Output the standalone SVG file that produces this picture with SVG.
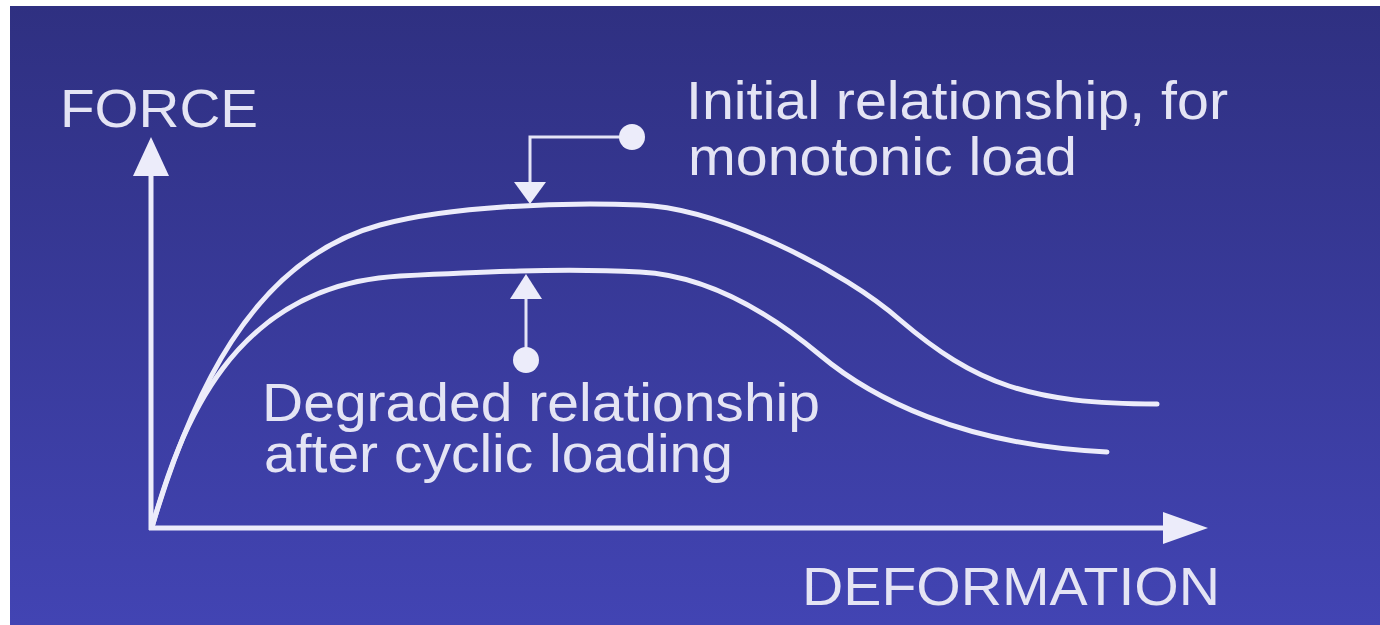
<svg xmlns="http://www.w3.org/2000/svg" width="1380" height="625" viewBox="0 0 1380 625">
<defs>
<linearGradient id="bg" x1="0" y1="0" x2="0" y2="1">
<stop offset="0" stop-color="#2f3081"/>
<stop offset="1" stop-color="#4244b3"/>
</linearGradient>
<style>
.lbl{font-family:"Liberation Sans",Arial,sans-serif;font-size:54px;fill:#e4e4f4}
.crv{fill:none;stroke:#ececfa;stroke-width:5;stroke-linecap:round}
.ax{fill:none;stroke:#ececfa;stroke-width:5}
.ld{fill:none;stroke:#e4e4f6;stroke-width:3}
.hd{fill:#ececfa}
</style>
</defs>
<rect x="0" y="0" width="1380" height="625" fill="#ffffff"/>
<rect x="10" y="6" width="1370" height="619" fill="url(#bg)"/>
<g id="axes">
<line class="ax" x1="151" y1="530" x2="151" y2="170"/>
<polygon class="hd" points="133,176 169,176 151,137"/>
<line class="ax" x1="149" y1="528" x2="1168" y2="528"/>
<polygon class="hd" points="1163,512 1163,544 1208,528"/>
</g>
<g id="curve-initial">
<path class="crv" d="M152,527 C190,400 250,260 380,225 C450,206 560,202 640,205 C720,208 845,271 900,320 C975,384 1030,404 1157,404"/>
</g>
<g id="curve-degraded">
<path class="crv" d="M152,527 C180,430 230,285 400,276 C480,272 560,268 640,272 C700,275 760,305 820,355 C870,397 960,445 1107,452"/>
</g>
<g id="connectors">
<polyline class="ld" points="632,137 530,137 530,184"/>
<polygon class="hd" points="514,182 546,182 530,204"/>
<circle class="hd" cx="632" cy="137" r="13"/>
<line class="ld" x1="526" y1="360" x2="526" y2="296"/>
<polygon class="hd" points="510,299 542,299 526,274"/>
<circle class="hd" cx="526" cy="360" r="13"/>
</g>
<g id="label-force">
<text class="lbl" x="60" y="127" textLength="198" lengthAdjust="spacingAndGlyphs">FORCE</text>
</g>
<g id="label-deformation">
<text class="lbl" x="802" y="605" textLength="418" lengthAdjust="spacingAndGlyphs">DEFORMATION</text>
</g>
<g id="label-initial">
<text class="lbl" x="686" y="119" textLength="542" lengthAdjust="spacingAndGlyphs">Initial relationship, for</text>
<text class="lbl" x="688" y="175" textLength="389" lengthAdjust="spacingAndGlyphs">monotonic load</text>
</g>
<g id="label-degraded">
<text class="lbl" x="262" y="421" textLength="558" lengthAdjust="spacingAndGlyphs">Degraded relationship</text>
<text class="lbl" x="264" y="472" textLength="469" lengthAdjust="spacingAndGlyphs">after cyclic loading</text>
</g>
</svg>
